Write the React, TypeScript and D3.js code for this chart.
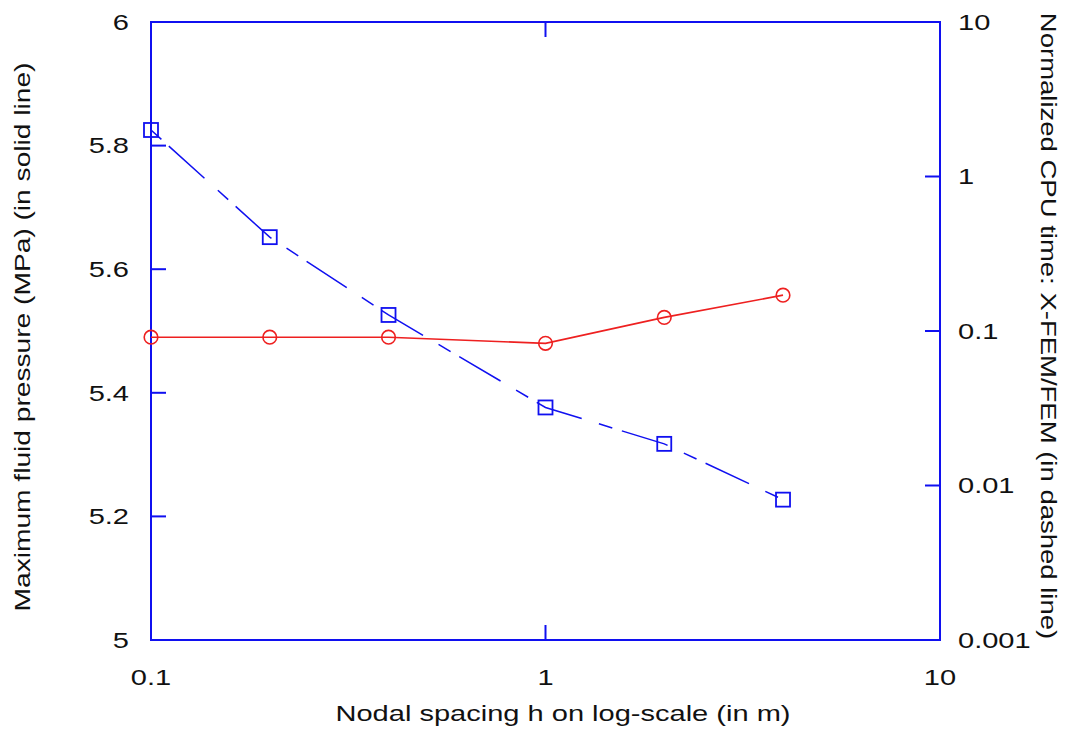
import React from "react";
import * as d3 from "d3";

// Nodal spacing h (m)
const spacing = [0.1, 0.2, 0.4, 1, 2, 4];
// Maximum fluid pressure (MPa), solid red line
const pressure = [5.49, 5.49, 5.49, 5.48, 5.522, 5.558];
// Normalized CPU time X-FEM/FEM, dashed blue line
const cpuRatio = [2.0, 0.405, 0.127, 0.032, 0.0186, 0.0081];

const xTicks = [0.1, 1, 10];
const xTickLabels = ["0.1", "1", "10"];
const leftTicks = [5, 5.2, 5.4, 5.6, 5.8, 6];
const leftTickLabels = ["5", "5.2", "5.4", "5.6", "5.8", "6"];
const rightTicks = [0.001, 0.01, 0.1, 1, 10];
const rightTickLabels = ["0.001", "0.01", "0.1", "1", "10"];

const W = 1066;
const H = 736;
const M = { left: 151, right: 940, top: 22, bottom: 640 };

const BLUE = "#1010f0";
const RED = "#ee2020";
const FONT = "'Liberation Sans', Arial, sans-serif";
const FS = 22;

type LabelProps = {
  x: number;
  y: number;
  rotate?: number;
  stretch?: number;
  anchor: "start" | "middle" | "end";
  children: React.ReactNode;
};

// Text with glyphs widened along the reading direction
function Label({ x, y, rotate = 0, stretch = 1.32, anchor, children }: LabelProps) {
  return (
    <g transform={`translate(${x},${y}) rotate(${rotate}) scale(${stretch},1)`}>
      <text dy="0.35em" textAnchor={anchor} fontSize={FS} fill="#111">
        {children}
      </text>
    </g>
  );
}

export default function App() {
  const x = d3.scaleLog().domain([0.1, 10]).range([M.left, M.right]);
  const yL = d3.scaleLinear().domain([5, 6]).range([M.bottom, M.top]);
  const yR = d3.scaleLog().domain([0.001, 10]).range([M.bottom, M.top]);

  const redLine = d3
    .line<number>()
    .x((_, i) => x(spacing[i]))
    .y((d) => yL(d))(pressure);
  const blueLine = d3
    .line<number>()
    .x((_, i) => x(spacing[i]))
    .y((d) => yR(d))(cpuRatio);

  const tickLen = 15;

  return (
    <svg
      width={W}
      height={H}
      style={{ position: "absolute", left: 0, top: 0, background: "#fff" }}
      fontFamily={FONT}
    >
      {/* frame */}
      <rect
        x={M.left}
        y={M.top}
        width={M.right - M.left}
        height={M.bottom - M.top}
        fill="none"
        stroke={BLUE}
        strokeWidth={2}
      />

      {/* left ticks + labels */}
      {leftTicks.map((t, i) => (
        <g key={"l" + i}>
          <line x1={M.left} x2={M.left + tickLen} y1={yL(t)} y2={yL(t)} stroke={BLUE} strokeWidth={2} />
          <Label x={129} y={yL(t)} anchor="end">
            {leftTickLabels[i]}
          </Label>
        </g>
      ))}

      {/* right ticks + labels */}
      {rightTicks.map((t, i) => (
        <g key={"r" + i}>
          <line x1={M.right - tickLen} x2={M.right} y1={yR(t)} y2={yR(t)} stroke={BLUE} strokeWidth={2} />
          <Label x={958} y={yR(t)} anchor="start">
            {rightTickLabels[i]}
          </Label>
        </g>
      ))}

      {/* x ticks (top and bottom) + labels */}
      {xTicks.map((t, i) => (
        <g key={"x" + i}>
          <line x1={x(t)} x2={x(t)} y1={M.bottom} y2={M.bottom - tickLen} stroke={BLUE} strokeWidth={2} />
          <line x1={x(t)} x2={x(t)} y1={M.top} y2={M.top + tickLen} stroke={BLUE} strokeWidth={2} />
          <Label x={x(t)} y={677} anchor="middle">
            {xTickLabels[i]}
          </Label>
        </g>
      ))}

      {/* pressure series */}
      <path d={redLine ?? ""} fill="none" stroke={RED} strokeWidth={1.6} />
      {pressure.map((p, i) => (
        <circle key={"c" + i} cx={x(spacing[i])} cy={yL(p)} r={6.8} fill="none" stroke={RED} strokeWidth={1.6} />
      ))}

      {/* CPU time series */}
      <path d={blueLine ?? ""} fill="none" stroke={BLUE} strokeWidth={1.5} strokeDasharray="14,10,48,18" />
      {cpuRatio.map((c, i) => (
        <rect
          key={"s" + i}
          x={x(spacing[i]) - 7}
          y={yR(c) - 7}
          width={14}
          height={14}
          fill="none"
          stroke={BLUE}
          strokeWidth={1.8}
        />
      ))}

      {/* axis titles */}
      <Label x={563} y={713} anchor="middle">
        Nodal spacing h on log-scale (in m)
      </Label>
      <Label x={22} y={337} rotate={-90} stretch={1.28} anchor="middle">
        Maximum fluid pressure (MPa) (in solid line)
      </Label>
      <Label x={1049} y={326} rotate={90} stretch={1.25} anchor="middle">
        Normalized CPU time: X-FEM/FEM (in dashed line)
      </Label>
    </svg>
  );
}
